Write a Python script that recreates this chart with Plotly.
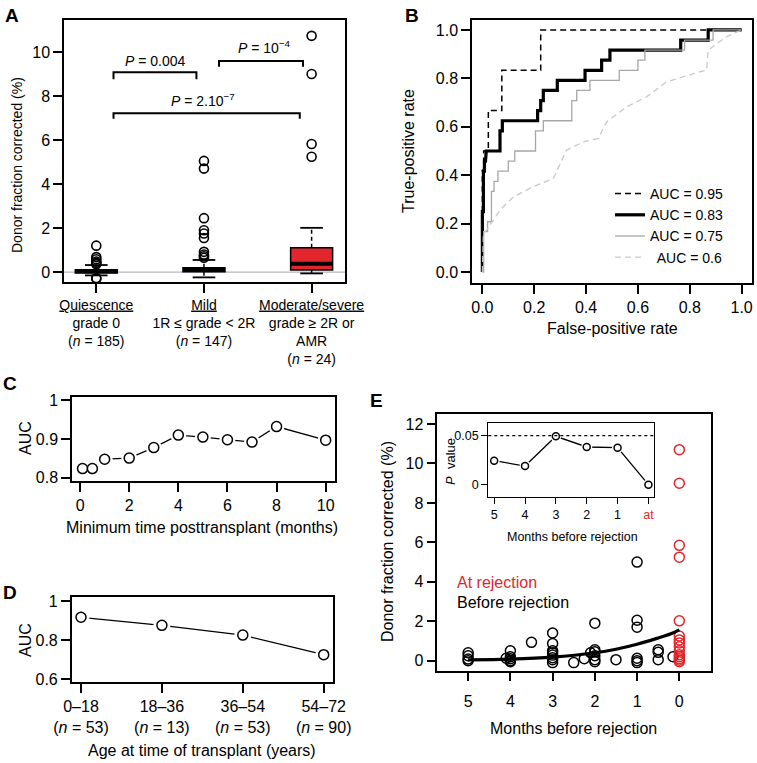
import plotly.graph_objects as go

W, H = 757, 763
FONT = "Liberation Sans"
RED = "#e3262d"

# ---------------- Panel A data ----------------
a_positions = [1, 2, 3]
a_labels = ["<u>Quiescence</u><br>grade 0<br>(<i>n</i> = 185)",
            "<u>Mild</u><br>1R ≤ grade &lt; 2R<br>(<i>n</i> = 147)",
            "<u>Moderate/severe</u><br>grade ≥ 2R or<br>AMR<br>(<i>n</i> = 24)"]
a_q1 = [-0.04, 0.02, 0.10]
a_median = [0.04, 0.12, 0.38]
a_q3 = [0.11, 0.20, 1.10]
a_lower = [-0.15, -0.24, -0.06]
a_upper = [0.32, 0.55, 2.01]
a_fill = ["white", "black", RED]
a_outliers = [
    [1.2, 0.68, 0.58, 0.48, 0.42, 0.36, -0.27, -0.3],
    [5.05, 4.7, 2.45, 1.9, 1.75, 1.55, 0.92, 0.8, 0.72, 0.65],
    [10.73, 9.0, 5.82, 5.24],
]
a_pvals = ["<i>P</i> = 0.004", "<i>P</i> = 10<sup>−4</sup>", "<i>P</i> = 2.10<sup>−7</sup>"]

# ---------------- Panel B data (ROC curves) ----------------
roc_names = ["AUC = 0.95", "AUC = 0.83", "AUC = 0.75", "\u00a0\u2009AUC = 0.6"]
roc95_fpr = [0, 0, 0.005, 0.005, 0.023, 0.023, 0.075, 0.075, 0.225, 0.225, 1.0]
roc95_tpr = [0, 0.42, 0.42, 0.5, 0.5, 0.667, 0.667, 0.833, 0.833, 1.0, 1.0]
roc83_fpr = [0, 0, 0.004, 0.004, 0.008, 0.008, 0.012, 0.012, 0.015, 0.015, 0.068, 0.068,
             0.077, 0.077, 0.213, 0.213, 0.225, 0.225, 0.235, 0.235, 0.289, 0.289,
             0.396, 0.396, 0.46, 0.46, 0.492, 0.492, 0.765, 0.765, 0.871, 0.871, 1.0]
roc83_tpr = [0, 0.25, 0.25, 0.417, 0.417, 0.458, 0.458, 0.479, 0.479, 0.5, 0.5, 0.583,
             0.583, 0.625, 0.625, 0.667, 0.667, 0.708, 0.708, 0.75, 0.75, 0.792,
             0.792, 0.833, 0.833, 0.875, 0.875, 0.917, 0.917, 0.958, 0.958, 1.0, 1.0]
roc75_fpr = [0, 0.005, 0.005, 0.02, 0.02, 0.035, 0.035, 0.045, 0.045, 0.06, 0.06, 0.1, 0.1,
             0.125, 0.125, 0.205, 0.205, 0.235, 0.235, 0.345, 0.345, 0.364, 0.364, 0.415,
             0.415, 0.528, 0.528, 0.6, 0.6, 0.627, 0.627, 0.78, 0.78, 0.89, 0.89, 1.0]
roc75_tpr = [0, 0, 0.167, 0.167, 0.208, 0.208, 0.333, 0.333, 0.375, 0.375, 0.417, 0.417,
             0.458, 0.458, 0.5, 0.5, 0.583, 0.583, 0.625, 0.625, 0.708, 0.708, 0.75, 0.75,
             0.792, 0.792, 0.833, 0.833, 0.875, 0.875, 0.917, 0.917, 0.958, 0.958, 1.0, 1.0]
roc60_fpr = [0, 0.004, 0.017, 0.043, 0.068, 0.12, 0.197, 0.274, 0.325, 0.39, 0.447, 0.48,
             0.557, 0.634, 0.711, 0.865, 0.871, 0.942, 1.0]
roc60_tpr = [0, 0.16, 0.174, 0.215, 0.256, 0.311, 0.353, 0.387, 0.504, 0.538, 0.552, 0.621,
             0.683, 0.724, 0.786, 0.835, 0.917, 0.972, 1.0]

# ---------------- Panel C data ----------------
c_months = [0.1, 0.5, 1, 2, 3, 4, 5, 6, 7, 8, 10]
c_auc = [0.824, 0.824, 0.848, 0.851, 0.878, 0.910, 0.905, 0.898, 0.892, 0.932, 0.897]

# ---------------- Panel D data ----------------
d_pos = [1, 2, 3, 4]
d_labels = ["0–18<br>(<i>n</i> = 53)", "18–36<br>(<i>n</i> = 13)",
            "36–54<br>(<i>n</i> = 53)", "54–72<br>(<i>n</i> = 90)"]
d_auc = [0.917, 0.876, 0.826, 0.726]

# ---------------- Panel E data ----------------
e_before_x = [5, 5, 5, 5,
              4, 4, 4, 4, 4, 4.1,
              3.5,
              3, 3, 3, 3, 3, 3, 3, 3,
              2.5, 2.25, 2.1,
              2, 2, 2, 2, 2, 2,
              1.5,
              1, 1, 1, 1, 1, 1,
              0.5, 0.5, 0.5,
              0.15]
e_before_y = [0.4, 0.25, 0.08, 0.0,
              0.5, 0.2, 0.1, 0.0, -0.05, 0.12,
              0.93,
              1.4, 0.87, 0.5, 0.4, 0.28, 0.15, 0.05, -0.1,
              -0.1, 0.1, 0.4,
              1.9, 0.55, 0.45, 0.25, 0.05, -0.05,
              0.05,
              5.0, 2.05, 1.7, 0.12, 0.0, -0.1,
              0.55, 0.42, 0.05,
              0.2]
e_at_x = [0] * 15
e_at_y = [10.7, 9.0, 5.85, 5.25, 2.02, 1.25, 1.05, 0.9, 0.7, 0.5, 0.3, 0.2, 0.1, 0.02, -0.05]
e_fit_x = [5, 4, 3, 2, 1.5, 1, 0.5, 0.2, 0]
e_fit_y = [0.04, 0.08, 0.18, 0.4, 0.58, 0.83, 1.15, 1.36, 1.56]

inset_x = [5, 4, 3, 2, 1, 0]
inset_labels = ["5", "4", "3", "2", "1", "<span style='color:#e3262d'>at</span>"]
inset_p = [0.0245, 0.019, 0.0494, 0.0385, 0.0378, 0.0]
p_threshold = 0.05


def px2x(px):
    return px / W


def py2y(py):
    return 1 - py / H


fig = go.Figure()


def ax_style(**kw):
    d = dict(showline=True, mirror=True, linecolor="black", linewidth=1.5,
             ticks="outside", ticklen=9, tickwidth=1.5, tickcolor="black",
             showgrid=False, zeroline=False, tickangle=0, automargin=False,
             tickfont=dict(family=FONT, size=16, color="black"))
    d.update(kw)
    return d


def add_b(xs, ys, xa, ya, msize, mask, lw=1.3):
    common = dict(xaxis=xa, yaxis=ya, showlegend=False, hoverinfo="skip")
    fig.add_trace(go.Scatter(x=xs, y=ys, mode="lines",
                             line=dict(color="black", width=lw), **common))
    fig.add_trace(go.Scatter(x=xs, y=ys, mode="markers",
                             marker=dict(size=mask, color="white", line=dict(width=0)), **common))
    fig.add_trace(go.Scatter(x=xs, y=ys, mode="markers",
                             marker=dict(size=msize, color="white", symbol="circle",
                                         line=dict(color="black", width=1.5)), **common))


# ---------------- Panel A ----------------
BW = 0.39
ST = 0.105
for i, c in enumerate(a_positions):
    fig.add_trace(go.Box(x=[c], q1=[a_q1[i]], median=[a_median[i]], q3=[a_q3[i]],
                         lowerfence=[a_q1[i]], upperfence=[a_q3[i]], width=BW,
                         fillcolor=a_fill[i], line=dict(color="black", width=1.5),
                         whiskerwidth=0, boxpoints=False, showlegend=False,
                         xaxis="x", yaxis="y", hoverinfo="skip"))
    fig.add_trace(go.Scatter(x=[c, c, None, c, c], y=[a_q3[i], a_upper[i], None, a_q1[i], a_lower[i]],
                             mode="lines", line=dict(color="black", width=1.5, dash="4px,3px"),
                             showlegend=False, xaxis="x", yaxis="y", hoverinfo="skip"))
    fig.add_trace(go.Scatter(x=[c - ST, c + ST, None, c - ST, c + ST],
                             y=[a_upper[i], a_upper[i], None, a_lower[i], a_lower[i]],
                             mode="lines", line=dict(color="black", width=1.8),
                             showlegend=False, xaxis="x", yaxis="y", hoverinfo="skip"))
    fig.add_trace(go.Scatter(x=[c - BW / 2, c + BW / 2], y=[a_median[i], a_median[i]],
                             mode="lines", line=dict(color="black", width=4),
                             showlegend=False, xaxis="x", yaxis="y", hoverinfo="skip"))
    fig.add_trace(go.Scatter(x=[c] * len(a_outliers[i]), y=a_outliers[i], mode="markers",
                             marker=dict(symbol="circle-open", size=9, color="black",
                                         line=dict(width=1.6)),
                             showlegend=False, xaxis="x", yaxis="y", hoverinfo="skip"))

fig.add_shape(type="line", xref="x domain", yref="y", x0=0, x1=1, y0=0, y1=0,
              line=dict(color="#b4b4c4", width=1.2), layer="below")
brackets = [(1.16, 1.93, 9.08, 8.76), (2.14, 2.92, 9.59, 9.33), (1.16, 2.89, 7.21, 6.97)]
for (x0, x1, yt, yb) in brackets:
    fig.add_shape(type="path", xref="x", yref="y",
                  path=f"M {x0},{yb} L {x0},{yt} L {x1},{yt} L {x1},{yb}",
                  line=dict(color="black", width=2))
ptext_pos = [(1.546, 9.6), (2.56, 10.21), (1.99, 7.82)]
for t, (x, y) in zip(a_pvals, ptext_pos):
    fig.add_annotation(x=x, y=y, xref="x", yref="y", text=t, showarrow=False,
                       font=dict(family=FONT, size=14, color="black"))

# ---------------- Panel B ----------------
roc_sets = [(roc95_fpr, roc95_tpr, dict(color="black", width=1.5, dash="6px,4px")),
            (roc83_fpr, roc83_tpr, dict(color="black", width=3.2)),
            (roc75_fpr, roc75_tpr, dict(color="#a6a6a6", width=1.3)),
            (roc60_fpr, roc60_tpr, dict(color="#c9c9c9", width=1.3, dash="6px,4px"))]
for name, (fx, ty, ln) in zip(roc_names, roc_sets):
    fig.add_trace(go.Scatter(x=fx, y=ty, mode="lines", line=ln, name=name,
                             xaxis="x2", yaxis="y2", hoverinfo="skip"))

# ---------------- Panel C ----------------
add_b(c_months, c_auc, "x3", "y3", 10, 16)

# ---------------- Panel D ----------------
add_b(d_pos, d_auc, "x4", "y4", 10, 17)

# ---------------- Panel E ----------------
fig.add_trace(go.Scatter(x=e_before_x, y=e_before_y, mode="markers",
                         marker=dict(symbol="circle-open", size=10, color="black", line=dict(width=1.5)),
                         showlegend=False, xaxis="x5", yaxis="y5", hoverinfo="skip"))
fig.add_trace(go.Scatter(x=e_at_x, y=e_at_y, mode="markers",
                         marker=dict(symbol="circle-open", size=10, color=RED, line=dict(width=1.5)),
                         showlegend=False, xaxis="x5", yaxis="y5", hoverinfo="skip"))
fig.add_trace(go.Scatter(x=e_fit_x, y=e_fit_y, mode="lines", line=dict(color="black", width=3.2, shape="spline"),
                         showlegend=False, xaxis="x5", yaxis="y5", hoverinfo="skip"))

# inset
fig.add_shape(type="line", xref="x6 domain", yref="y6", x0=0, x1=1, y0=p_threshold, y1=p_threshold,
              line=dict(color="black", width=1.3, dash="dot"))
add_b(inset_x, inset_p, "x6", "y6", 7, 11, lw=1.3)

# ---------------- Layout ----------------
fig.update_layout(
    width=W, height=H, margin=dict(l=0, r=0, t=0, b=0, autoexpand=False),
    paper_bgcolor="white", plot_bgcolor="white",
    font=dict(family=FONT, color="black"),
    showlegend=True,
    legend=dict(x=px2x(610), y=py2y(178), xanchor="left", yanchor="top",
                bgcolor="rgba(0,0,0,0)", font=dict(family=FONT, size=14, color="black"),
                itemwidth=30, tracegroupgap=0),
    xaxis=ax_style(domain=[px2x(64), px2x(345)], range=[0.7, 3.31], tickvals=a_positions,
                   ticktext=a_labels, anchor="y", tickfont=dict(family=FONT, size=14, color="black")),
    yaxis=ax_style(domain=[py2y(282), py2y(20)], range=[-0.45, 11.45], tickvals=[0, 2, 4, 6, 8, 10],
                   anchor="x"),
    xaxis2=ax_style(domain=[px2x(472), px2x(752)], range=[-0.04, 1.04],
                    tickvals=[0, 0.2, 0.4, 0.6, 0.8, 1.0], tickformat=".1f", anchor="y2"),
    yaxis2=ax_style(domain=[py2y(283), py2y(20)], range=[-0.045, 1.041],
                    tickvals=[0, 0.2, 0.4, 0.6, 0.8, 1.0], tickformat=".1f", anchor="x2"),
    xaxis3=ax_style(domain=[px2x(72), px2x(335)], range=[-0.33, 10.38],
                    tickvals=[0, 2, 4, 6, 8, 10], anchor="y3"),
    yaxis3=ax_style(domain=[py2y(481), py2y(397)], range=[0.792, 1.008],
                    tickvals=[0.8, 0.9, 1.0], ticktext=["0.8", "0.9", "1"], anchor="x3"),
    xaxis4=ax_style(domain=[px2x(71.7), px2x(333)], range=[0.885, 4.115],
                    tickvals=d_pos, ticktext=d_labels, anchor="y4"),
    yaxis4=ax_style(domain=[py2y(682.3), py2y(597.3)], range=[0.585, 1.019],
                    tickvals=[0.6, 0.8, 1.0], ticktext=["0.6", "0.8", "1"], anchor="x4"),
    xaxis5=ax_style(domain=[px2x(437.3), px2x(711)], range=[5.73, -0.75],
                    tickvals=[5, 4, 3, 2, 1, 0], anchor="y5", ticklabelstandoff=6),
    yaxis5=ax_style(domain=[py2y(670.7), py2y(414)], range=[-0.51, 12.51],
                    tickvals=[0, 2, 4, 6, 8, 10, 12], anchor="x5"),
    xaxis6=ax_style(domain=[px2x(488.3), px2x(654.3)], range=[5.19, -0.19],
                    tickvals=inset_x, ticktext=inset_labels, anchor="y6", ticklen=6, tickwidth=1.2,
                    linewidth=1.3, tickfont=dict(family=FONT, size=12.5, color="black")),
    yaxis6=ax_style(domain=[py2y(497), py2y(422.7)], range=[-0.0126, 0.0633],
                    tickvals=[0, 0.05], ticktext=["0", "0.05"], anchor="x6", ticklen=6, tickwidth=1.2,
                    linewidth=1.3, tickfont=dict(family=FONT, size=12.5, color="black")),
)

# axis titles & panel letters as annotations
def ann(text, px, py, size=16, angle=0, xanchor="center", color="black", bold=False):
    if bold:
        text = f"<b>{text}</b>"
    fig.add_annotation(x=px2x(px), y=py2y(py), xref="paper", yref="paper", text=text,
                       showarrow=False, textangle=angle, xanchor=xanchor, yanchor="middle",
                       font=dict(family=FONT, size=size, color=color))

ann("Donor fraction corrected (%)", 17, 165, size=14, angle=-90)
ann("True-positive rate", 408, 151, angle=-90)
ann("False-positive rate", 612, 328)
ann("AUC", 25, 438, angle=-90)
ann("Minimum time posttransplant (months)", 202, 527)
ann("AUC", 25, 640, angle=-90)
ann("Age at time of transplant (years)", 202, 750)
ann("Donor fraction corrected (%)", 387, 542, angle=-90)
ann("Months before rejection", 573, 728)
ann("<i>P</i>  value", 450, 462, size=13, angle=-90)
ann("Months before rejection", 572, 537, size=12.5)
ann("At rejection", 455, 582, size=16, xanchor="left", color=RED)
ann("Before rejection", 455, 602, size=16, xanchor="left")

for letter, (px, py) in {"A": (12, 15), "B": (412, 15), "C": (10, 384),
                         "D": (10, 592), "E": (376, 400)}.items():
    ann(letter, px, py, size=19, bold=True)

# the page body's default 8px margin would shift the 757x763 figure and cause scrolling
fig.write_html("out.html", config={"displayModeBar": False},
               post_script="document.body.style.margin='0px';")
